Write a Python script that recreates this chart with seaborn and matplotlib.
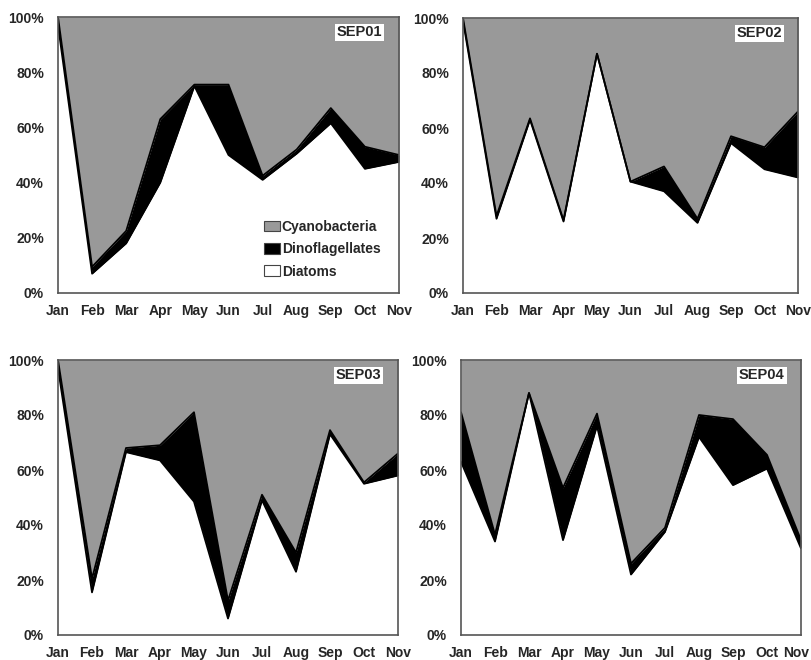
import matplotlib
matplotlib.use("Agg")
import matplotlib.pyplot as plt
from matplotlib.patches import Patch
from matplotlib.transforms import ScaledTranslation
import seaborn as sns
import pandas as pd

sns.set_style("white")
plt.rcParams["font.family"] = ["Liberation Sans", "DejaVu Sans"]
plt.rcParams["font.weight"] = "bold"

months = ["Jan", "Feb", "Mar", "Apr", "May", "Jun", "Jul", "Aug", "Sep", "Oct", "Nov"]
yticks = [0, 20, 40, 60, 80, 100]
ytick_labels = ["0%", "20%", "40%", "60%", "80%", "100%"]
groups = ["Cyanobacteria", "Dinoflagellates", "Diatoms"]
colors = {"Cyanobacteria": "#999999", "Dinoflagellates": "#000000", "Diatoms": "#ffffff"}

# Percent composition per month (Diatoms, Dinoflagellates, Cyanobacteria)
sep01_diatoms = [97, 7, 18, 40, 75, 50, 41, 50.5, 61.5, 45, 47.5]
sep01_dino = [3, 2.5, 4.5, 23, 0.5, 25.5, 1.5, 1.5, 5.5, 8, 2.5]
sep01_cyano = [0, 90.5, 77.5, 37, 24.5, 24.5, 57.5, 48, 33, 47, 50]

sep02_diatoms = [99, 27, 63, 26, 87, 40.5, 37, 25.5, 54.5, 45, 42]
sep02_dino = [1, 1, 0.5, 0.5, 0, 0, 9, 1.5, 2.5, 8, 24]
sep02_cyano = [0, 72, 36.5, 73.5, 13, 59.5, 54, 73, 43, 47, 34]

sep03_diatoms = [97, 15.5, 66.5, 63.5, 48.5, 6, 49, 23, 73, 55, 58]
sep03_dino = [3, 5, 1.5, 5.5, 32.5, 6.5, 2, 7, 1.5, 0.5, 8]
sep03_cyano = [0, 79.5, 32, 31, 19, 87.5, 49, 70, 25.5, 44.5, 34]

sep04_diatoms = [63, 34, 88, 34.5, 76, 22, 37.5, 72, 54.5, 60.5, 31.5]
sep04_dino = [18, 2.5, 0, 19, 4.5, 4, 1.5, 8, 24, 5, 3]
sep04_cyano = [19, 63.5, 12, 46.5, 19.5, 74, 61, 20, 21.5, 34.5, 65.5]

panels = [
    ("SEP01", sep01_diatoms, sep01_dino, sep01_cyano),
    ("SEP02", sep02_diatoms, sep02_dino, sep02_cyano),
    ("SEP03", sep03_diatoms, sep03_dino, sep03_cyano),
    ("SEP04", sep04_diatoms, sep04_dino, sep04_cyano),
]

# axes rectangles in figure pixels: (left, top, right, bottom)
W, H = 811, 660
boxes = [(58, 17, 399, 293), (463, 18, 798, 293), (58, 360, 398, 635), (461, 360, 801, 635)]

fig = plt.figure(figsize=(W / 100, H / 100), dpi=100)

for (name, dia, dino, cyano), (l, t, r, b) in zip(panels, boxes):
    ax = fig.add_axes([l / W, 1 - b / H, (r - l) / W, (b - t) / H])
    df = pd.DataFrame({"x": range(len(months)), "Diatoms": dia,
                       "Dinoflagellates": dino, "Cyanobacteria": cyano})
    total = df["Diatoms"] + df["Dinoflagellates"] + df["Cyanobacteria"]
    lvl1 = df["Diatoms"] / total * 100
    lvl2 = (df["Diatoms"] + df["Dinoflagellates"]) / total * 100
    ax.fill_between(df["x"], 0, lvl1, color=colors["Diatoms"], lw=0)
    ax.fill_between(df["x"], lvl1, lvl2, color=colors["Dinoflagellates"], lw=0)
    ax.fill_between(df["x"], lvl2, 100, color=colors["Cyanobacteria"], lw=0)
    sns.lineplot(x=df["x"], y=lvl1, color="black", lw=1.3, ax=ax)
    sns.lineplot(x=df["x"], y=lvl2, color="black", lw=1.3, ax=ax)

    ax.set_xlim(0, len(months) - 1)
    ax.set_ylim(0, 100)
    ax.set_xticks(range(len(months)))
    ax.set_xticklabels(months)
    ax.set_yticks(yticks)
    ax.set_yticklabels(ytick_labels)
    ax.set_xlabel("")
    ax.set_ylabel("")
    ax.tick_params(axis="both", length=0, labelsize=10)
    ax.tick_params(axis="x", pad=15.5)
    ax.tick_params(axis="y", pad=10)
    for lab in ax.get_xticklabels():
        lab.set_fontweight("bold")
        lab.set_verticalalignment("baseline")
    for lab in ax.get_yticklabels():
        lab.set_fontweight("bold")
    if r > 800:
        last = ax.get_xticklabels()[-1]
        last.set_transform(last.get_transform() + ScaledTranslation(-5 / 100, 0, fig.dpi_scale_trans))
    for sp in ax.spines.values():
        sp.set_visible(True)
        sp.set_color("#555555")
        sp.set_linewidth(1.2)

    ax.text(0.885, 0.944, name, transform=ax.transAxes, ha="center", va="center",
            fontsize=10.5, fontweight="bold",
            bbox=dict(boxstyle="square,pad=0.12", fc="white", ec="none"))

    if name == "SEP01":
        handles = [Patch(facecolor=colors[g], edgecolor="#444444", lw=0.8) for g in groups]
        leg = ax.legend(handles, groups, loc="upper left", bbox_to_anchor=(0.585, 0.29),
                        frameon=False, handlelength=1.1, handleheight=0.8,
                        handletextpad=0.15, labelspacing=0.6, borderpad=0,
                        prop={"weight": "bold", "size": 10})

fig.savefig("out.png", dpi=100)
